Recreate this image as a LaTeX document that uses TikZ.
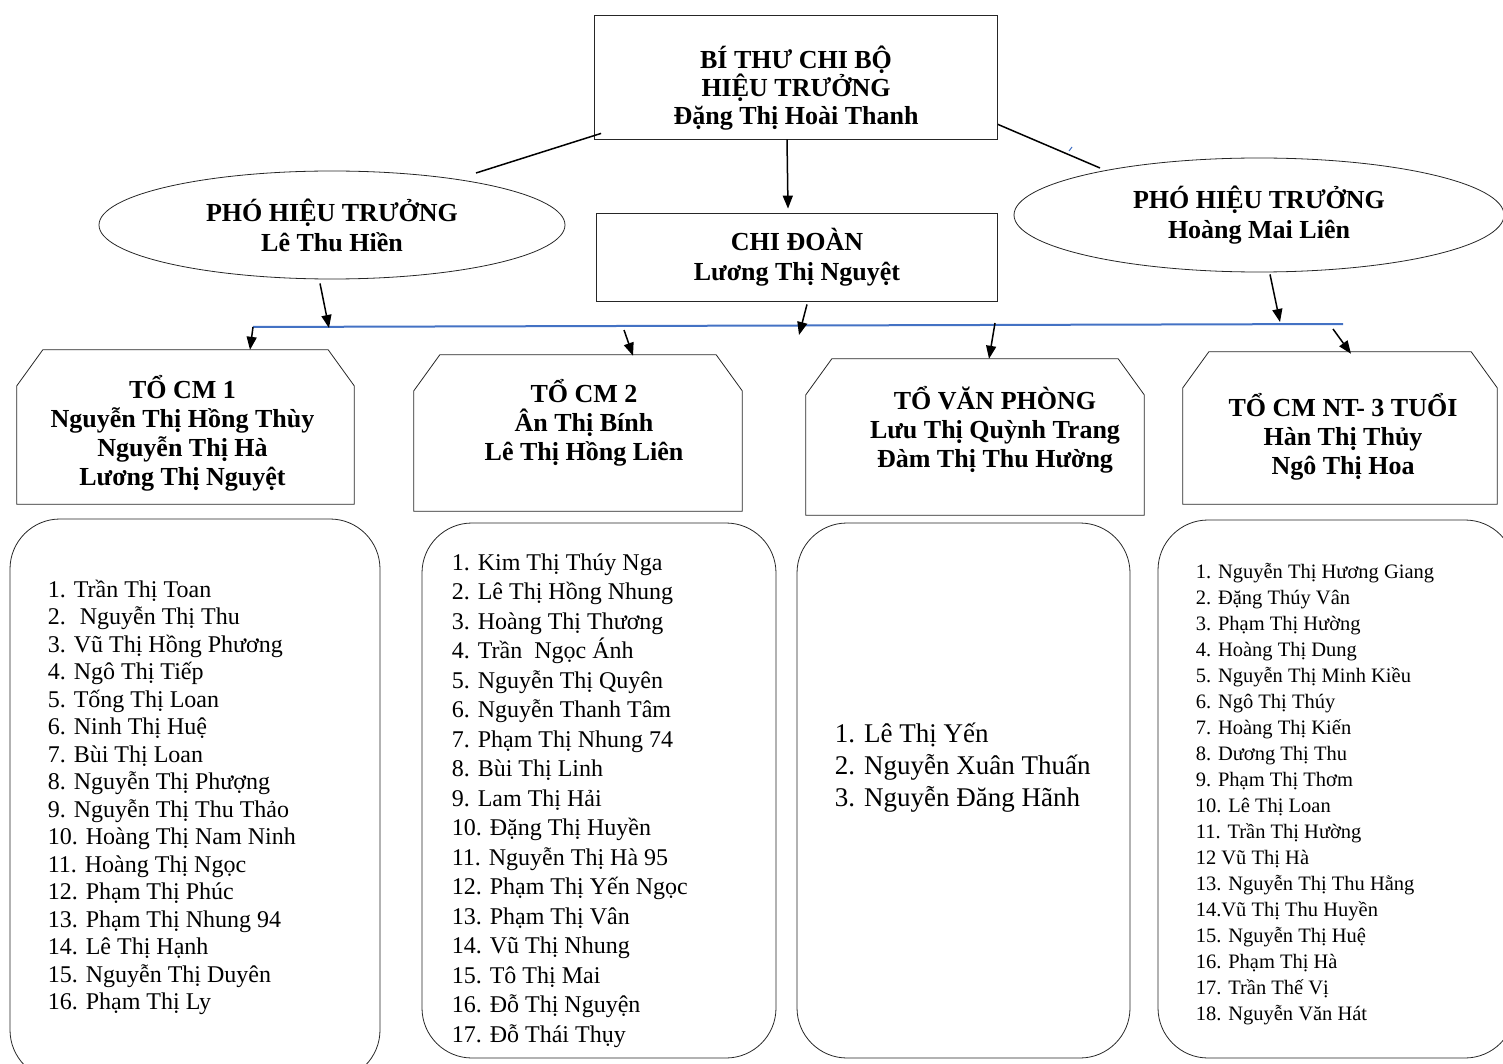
\documentclass[tikz,border=0pt]{standalone}
\usepackage{fontspec}
\setmainfont{Liberation Serif}
\usetikzlibrary{positioning}
\usetikzlibrary{shapes.geometric}
\usetikzlibrary{arrows.meta}

\definecolor{busblue}{RGB}{68,114,196}
\tikzset{
  headbox/.style={draw=black!85, line width=0.8pt, align=center, inner sep=0pt,
    font=\fontsize{26}{30}\selectfont\bfseries},
  headell/.style={headbox, ellipse},
  headtext/.style={align=center, inner sep=0pt, font=\fontsize{26}{28}\selectfont\bfseries},
  tobox/.style={inner sep=0pt},
  totext/.style={align=center, inner sep=0pt, font=\fontsize{26}{29}\selectfont\bfseries},
  dsbox/.style={draw=black!85, line width=0.8pt, rounded corners=50pt, inner sep=0pt},
  dstext/.style={align=left, inner sep=0pt},
  link/.style={line width=1.5pt},
  arr/.style={line width=1.5pt, -{Triangle[length=13pt,width=10pt]}},
  bus/.style={line width=2pt, busblue}
}

\begin{document}
\begin{tikzpicture}[x=1pt,y=-1pt]
  \useasboundingbox (0,0) rectangle (1503,1064);

  % top level
  \node[headbox, minimum width=403pt, minimum height=124pt] (bithu) at (796,77) {};
  \node[headtext, yshift=-11pt] (bithut) at (bithu.center)
    {BÍ THƯ CHI BỘ\\HIỆU TRƯỞNG\\Đặng Thị Hoài Thanh};
  \node[headbox, minimum width=401pt, minimum height=88pt] (chidoan) at (797,257)
    {CHI ĐOÀN\\Lương Thị Nguyệt};
  \node[headell, minimum width=466pt, minimum height=108pt] (phoL) at (332,225)
    {PHÓ HIỆU TRƯỞNG\\Lê Thu Hiền};
  \node[headell, minimum width=490pt, minimum height=114pt] (phoR) at (1259,215)
    {PHÓ HIỆU TRƯỞNG\\Hoàng Mai Liên};

  % groups
  \node[tobox, minimum width=337pt, minimum height=154pt] (to1) at (185.5,427) {};
  \node[tobox, minimum width=328pt, minimum height=156pt] (to2) at (578,433) {};
  \node[tobox, minimum width=338pt, minimum height=156pt] (to3) at (975,437) {};
  \node[tobox, minimum width=314pt, minimum height=152pt] (to4) at (1340,428) {};
  \foreach \n in {to1,to2,to3,to4}
    \draw[draw=black!85, line width=0.8pt] ([yshift=-36pt]\n.north west) -- ([xshift=26pt]\n.north west)
      -- ([xshift=-26pt]\n.north east) -- ([yshift=-36pt]\n.north east)
      -- (\n.south east) -- (\n.south west) -- cycle;

  \node[totext, below=25pt of to1.north, xshift=-3pt] (to1t)
    {TỔ CM 1\\Nguyễn Thị Hồng Thùy\\Nguyễn Thị Hà\\Lương Thị Nguyệt};
  \node[totext, below=24pt of to2.north, xshift=6pt] (to2t)
    {TỔ CM 2\\Ân Thị Bính\\Lê Thị Hồng Liên};
  \node[totext, below=27pt of to3.north, xshift=20pt] (to3t)
    {TỔ VĂN PHÒNG\\Lưu Thị Quỳnh Trang\\Đàm Thị Thu Hường};
  \node[totext, below=41pt of to4.north, xshift=3pt] (to4t)
    {TỔ CM NT- 3 TUỔI\\Hàn Thị Thủy\\Ngô Thị Hoa};

  % member lists
  \node[dsbox, minimum width=370pt, minimum height=561pt] (ds1) at (195,799.5) {};
  \node[dsbox, minimum width=354pt, minimum height=535pt] (ds2) at (599,790.5) {};
  \node[dsbox, minimum width=333pt, minimum height=535pt] (ds3) at (963.5,790.5) {};
  \node[dsbox, minimum width=357pt, minimum height=538pt] (ds4) at (1336.5,789) {};

  \node[dstext, font=\fontsize{24}{27.5}\selectfont, below right=61pt and 38pt of ds1.north west] (ds1t)
    {1. Trần Thị Toan\\2.~ Nguyễn Thị Thu\\3. Vũ Thị Hồng Phương\\4. Ngô Thị Tiếp\\
     5. Tống Thị Loan\\6. Ninh Thị Huệ\\7. Bùi Thị Loan\\8. Nguyễn Thị Phượng\\
     9. Nguyễn Thị Thu Thảo\\10. Hoàng Thị Nam Ninh\\11. Hoàng Thị Ngọc\\12. Phạm Thị Phúc\\
     13. Phạm Thị Nhung 94\\14. Lê Thị Hạnh\\15. Nguyễn Thị Duyên\\16. Phạm Thị Ly};
  \node[dstext, font=\fontsize{24}{29.5}\selectfont, below right=31pt and 30pt of ds2.north west] (ds2t)
    {1. Kim Thị Thúy Nga\\2. Lê Thị Hồng Nhung\\3. Hoàng Thị Thương\\4. Trần~ Ngọc Ánh\\
     5. Nguyễn Thị Quyên\\6. Nguyễn Thanh Tâm\\7. Phạm Thị Nhung 74\\8. Bùi Thị Linh\\
     9. Lam Thị Hải\\10. Đặng Thị Huyền\\11. Nguyễn Thị Hà 95\\12. Phạm Thị Yến Ngọc\\
     13. Phạm Thị Vân\\14. Vũ Thị Nhung\\15. Tô Thị Mai\\16. Đỗ Thị Nguyện\\17. Đỗ Thái Thụy};
  \node[dstext, font=\fontsize{27}{32}\selectfont, below right=200pt and 38pt of ds3.north west] (ds3t)
    {1. Lê Thị Yến\\2. Nguyễn Xuân Thuấn\\3. Nguyễn Đăng Hãnh};
  \node[dstext, font=\fontsize{20.5}{26}\selectfont, below right=43pt and 38pt of ds4.north west] (ds4t)
    {1. Nguyễn Thị Hương Giang\\2. Đặng Thúy Vân\\3. Phạm Thị Hường\\4. Hoàng Thị Dung\\
     5. Nguyễn Thị Minh Kiều\\6. Ngô Thị Thúy\\7. Hoàng Thị Kiến\\8. Dương Thị Thu\\
     9. Phạm Thị Thơm\\10. Lê Thị Loan\\11. Trần Thị Hường\\12 Vũ Thị Hà\\
     13. Nguyễn Thị Thu Hằng\\14.Vũ Thị Thu Huyền\\15. Nguyễn Thị Huệ\\16. Phạm Thị Hà\\
     17. Trần Thế Vị\\18. Nguyễn Văn Hát};

  % connectors
  \coordinate (jL) at (476,173);
  \coordinate (jR) at (1100,168);
  \coordinate (busL) at (253,327);
  \coordinate (busR) at (1343,324);
  \coordinate (jA) at (329,328);
  \coordinate (jB) at (624,330);
  \coordinate (jC) at (799,335);
  \coordinate (jD) at (995,323);
  \coordinate (jE) at (1280,322);
  \coordinate (jF) at (1333,329);

  \draw[link] ([shift={(7pt,6pt)}]bithu.south west) -- (jL);
  \draw[link] ([yshift=15pt]bithu.south east) -- (jR);
  \draw[busblue, line width=1pt] (1069,151) -- (1072,147);
  \draw[arr] ([xshift=-9pt]bithu.south) -- ([xshift=-9pt,yshift=4pt]chidoan.north);
  \draw[bus] (busL) -- (busR);
  \draw[arr] ([shift={(-12pt,-4pt)}]phoL.south) -- (jA);
  \draw[arr] (busL) -- ([xshift=64.5pt]to1.north);
  \draw[arr] (jB) -- ([xshift=55pt,yshift=-1pt]to2.north);
  \draw[arr] ([shift={(10pt,-3pt)}]chidoan.south) -- (jC);
  \draw[arr] (jD) -- ([xshift=14pt]to3.north);
  \draw[arr] ([shift={(11pt,-2pt)}]phoR.south) -- (jE);
  \draw[arr] (jF) -- ([shift={(11pt,-2pt)}]to4.north);
\end{tikzpicture}
\end{document}
